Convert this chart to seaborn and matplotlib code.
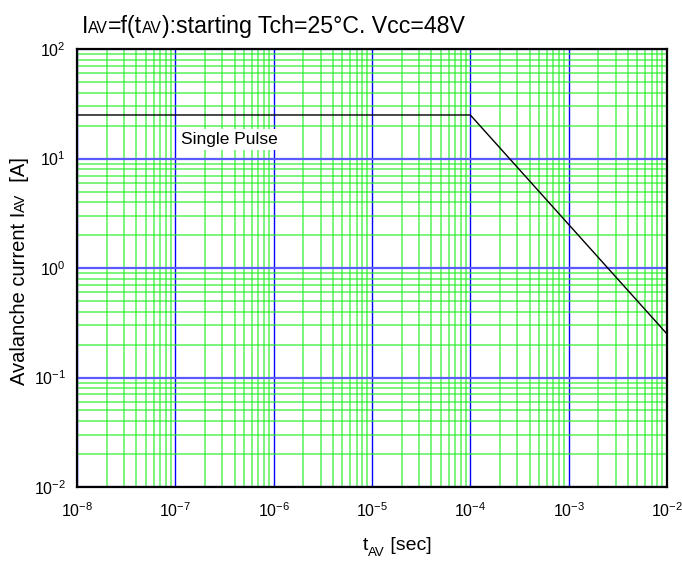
import numpy as np
import pandas as pd
import matplotlib
matplotlib.use("Agg")
import matplotlib.pyplot as plt
import matplotlib.ticker as mticker
import seaborn as sns

# avalanche curve (single pulse)
t_av = [1e-8, 1e-4, 1e-2]
i_av = [25, 25, 0.25]

x_lim = (1e-8, 1e-2)
y_lim = (1e-2, 1e2)

title_parts = [("I", 16.7), ("AV", 11.3), ("=f(t", 16.7), ("AV", 11.3),
               ("):starting Tch=25°C. Vcc=48V", 16.7)]
ylabel_parts = [("Avalanche current I", 14.5), ("AV", 10.5), ("  [A]", 14.5)]
xlabel_parts = [("t", 14), ("AV", 9.5), (" [sec]", 14)]

sns.set_style("white")
plt.rcParams['font.family'] = ['Liberation Sans', 'DejaVu Sans']
plt.rcParams['mathtext.fontset'] = 'custom'
plt.rcParams['mathtext.rm'] = 'Liberation Sans'
plt.rcParams['mathtext.it'] = 'Liberation Sans:italic'
for key in ('text.color', 'axes.labelcolor', 'xtick.color', 'ytick.color'):
    plt.rcParams[key] = 'black'

fig = plt.figure(figsize=(6.82, 5.64), dpi=100)
ax = fig.add_axes([0.1129, 0.1365, 0.8651, 0.7765])

df = pd.DataFrame({'t': t_av, 'i': i_av})
sns.lineplot(data=df, x='t', y='i', color='black', lw=1, ax=ax, zorder=5)

ax.set_xscale('log')
ax.set_yscale('log')
ax.set_xlim(*x_lim)
ax.set_ylim(*y_lim)

for axis in (ax.xaxis, ax.yaxis):
    axis.set_major_locator(mticker.LogLocator(base=10, numticks=20))
    axis.set_minor_locator(mticker.LogLocator(base=10, subs=np.arange(2, 10), numticks=100))
    axis.set_major_formatter(mticker.LogFormatterMathtext())
    axis.set_minor_formatter(mticker.NullFormatter())

# grid: green minors, blue decades
ax.grid(which='minor', axis='both', color='#22ee22', lw=1.1, alpha=0.75)
ax.xaxis.grid(which='major', color='#0000ff', lw=1.0)
ax.yaxis.grid(which='major', color='#5a5aff', lw=1.6)
ax.set_axisbelow(True)

ax.tick_params(which='both', direction='in', labelsize=11.5, length=3, color='black')
ax.tick_params(which='minor', length=2)
ax.tick_params(axis='x', which='major', pad=10)
ax.tick_params(axis='y', which='major', pad=8)
for sp in ax.spines.values():
    sp.set_color('black')
    sp.set_linewidth(1.6)
    sp.set_zorder(10)

ax.set_xlabel("")
ax.set_ylabel("")

ax.text(1.15e-7, 13.6, "Single Pulse", fontsize=12.5, va='baseline', ha='left',
        bbox=dict(facecolor='white', edgecolor='none', pad=2), zorder=6)

# labels with small "AV" pieces
r = fig.canvas.get_renderer()


def chain(parts, x, y, rotation=0, sub=None):
    for txt, size in parts:
        yy = y
        if sub is not None and txt == "AV":
            yy = y - sub / fig.bbox.height
        t = fig.text(x, yy, txt, fontsize=size, ha='left', va='baseline',
                     rotation=rotation, rotation_mode='anchor')
        bb = t.get_window_extent(r)
        if rotation == 0:
            x += bb.width / fig.bbox.width
        else:
            y += bb.height / fig.bbox.height


chain(title_parts, 82 / 682, 1 - 33 / 564)
chain(ylabel_parts, 25 / 682, 1 - 385 / 564, rotation=90)
chain(xlabel_parts, 363 / 682, 1 - 550 / 564, sub=6)

fig.savefig("out.png", dpi=100)
